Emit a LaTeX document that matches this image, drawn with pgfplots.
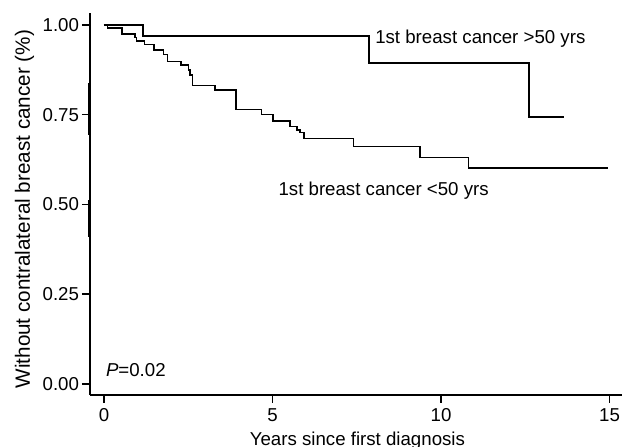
\documentclass[border=0pt]{standalone}
\usepackage{fontspec}
\setmainfont{Liberation Sans}
\usepackage{pgfplots}
\pgfplotsset{compat=1.18}
\newcommand\fs{\fontsize{11.2}{13.4}\selectfont}

\begin{document}
\begin{tikzpicture}
\begin{axis}[
  scale only axis,
  width=319.3pt, height=229.1pt,
  xmin=-0.42, xmax=15.371, ymin=-0.0306, ymax=1.033,
  axis x line=bottom, axis y line=left,
  axis line style={-, line width=0.9pt},
  xtick={0,5,10,15}, ytick={0,0.25,0.5,0.75,1},
  yticklabels={0.00,0.25,0.50,0.75,1.00},
  tick align=outside, major tick length=4.8pt,
  tick style={line width=0.9pt, black},
  ticklabel style={font=\fs},
  yticklabel style={xshift=1.8pt},
  /pgf/number format/assume math mode=true,
  clip=false
]
% >50 yrs at first diagnosis
\addplot[const plot, line width=1pt] coordinates {
  (0,1.0) (1.16,0.969) (7.86,0.894) (12.61,0.744) (13.65,0.744)};
% <50 yrs at first diagnosis
\addplot[const plot, line width=0.9pt] coordinates {
  (0,1.0) (0.11,0.991) (0.53,0.975) (0.92,0.965) (0.97,0.955)
  (1.20,0.945) (1.49,0.930) (1.76,0.918) (1.89,0.898) (2.28,0.889)
  (2.50,0.875) (2.55,0.861) (2.62,0.831) (3.29,0.819) (3.91,0.765)
  (4.68,0.750) (5.01,0.733) (5.52,0.717) (5.72,0.708) (5.82,0.700)
  (5.93,0.684) (7.40,0.661) (9.38,0.631) (10.81,0.601) (14.96,0.601)};
% heavier stretches on the y axis
\addplot[line width=1.8pt] coordinates {(-0.42,0.838) (-0.42,0.694)};
\addplot[line width=1.8pt] coordinates {(-0.42,0.513) (-0.42,0.409)};

\node[anchor=base west, font=\fs, inner sep=0pt] at (axis cs:8.04,0.949) {1st breast cancer >50 yrs};
\node[anchor=base west, font=\fs, inner sep=0pt] at (axis cs:5.17,0.524) {1st breast cancer <50 yrs};
\node[anchor=base west, font=\fs, inner sep=0pt] at (axis cs:0.05,0.0195) {\textit{P}=0.02};
\node[anchor=base, font=\fs, inner sep=0pt] at (axis cs:7.52,-0.170) {Years since first diagnosis};
\node[anchor=base, rotate=90, font=\fontsize{12.4}{14.8}\selectfont, inner sep=0pt] at (axis cs:-2.196,0.487) {Without contralateral breast cancer (\%)};

\coordinate (bl) at (axis cs:-3.086,-0.1755);
\coordinate (tr) at (axis cs:15.371,1.0696);
\end{axis}
\pgfresetboundingbox
\path (bl) rectangle (tr);
\end{tikzpicture}
\end{document}
